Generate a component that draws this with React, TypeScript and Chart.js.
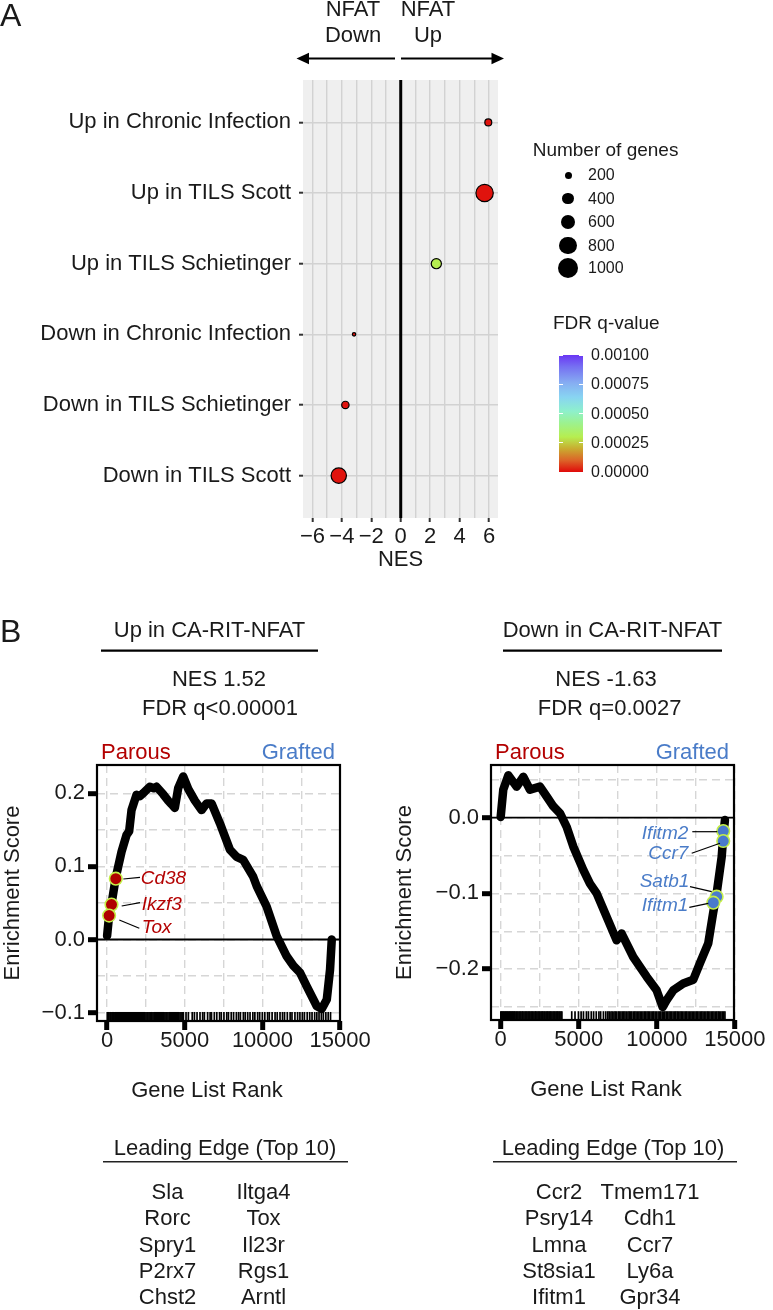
import React, { useEffect, useRef } from 'react';
import { Chart, registerables } from 'chart.js';

Chart.register(...registerables);

const FONT = '"Liberation Sans", Arial, Helvetica, sans-serif';
const INK = '#1a1a1a';

// ---------------- Panel A data ----------------
const categories = [
  'Up in Chronic Infection',
  'Up in TILS Scott',
  'Up in TILS Schietinger',
  'Down in Chronic Infection',
  'Down in TILS Schietinger',
  'Down in TILS Scott',
];
const nesValues = [5.95, 5.7, 2.42, -3.17, -3.76, -4.21];
const geneCounts = [245, 880, 400, 120, 265, 730];
const fdrQValues = [0.00001, 0.00001, 0.0003, 0.00001, 0.00001, 0.00001];
const nesTickValues = [-6, -5, -4, -3, -2, -1, 0, 1, 2, 3, 4, 5, 6];
const sizeLegendValues = [200, 400, 600, 800, 1000];
const fdrLegendTicks = [0.001, 0.00075, 0.0005, 0.00025, 0];
const fdrLegendLabels = ['0.00100', '0.00075', '0.00050', '0.00025', '0.00000'];

// ---------------- Panel B data ----------------
const upRanks = [0, 130, 280, 560, 930, 1250, 1420, 1572, 1894, 2100, 2320, 2750, 3000, 3180, 3600, 3930, 4150, 4360, 4575, 4900, 5220, 5650, 6080, 6400, 6730, 7260, 7900, 8340, 8760, 9400, 9630, 10270, 10910, 11560, 11990, 12410, 12850, 13490, 13810, 14140, 14350, 14460];
const upES = [0.005, 0.033, 0.048, 0.085, 0.12, 0.143, 0.148, 0.177, 0.198, 0.196, 0.2, 0.209, 0.207, 0.209, 0.199, 0.19, 0.185, 0.18, 0.207, 0.223, 0.206, 0.19, 0.177, 0.186, 0.186, 0.159, 0.123, 0.113, 0.109, 0.086, 0.073, 0.045, 0.005, -0.023, -0.036, -0.045, -0.064, -0.091, -0.095, -0.082, -0.041, 0.0];
const upRugRanks = [15, 70, 120, 190, 240, 310, 365, 420, 500, 555, 610, 680, 745, 800, 870, 925, 990, 1060, 1120, 1170, 1240, 1310, 1365, 1430, 1500, 1560, 1620, 1700, 1760, 1830, 1880, 1950, 2030, 2090, 2150, 2230, 2300, 2360, 2420, 2500, 2570, 2630, 2700, 2770, 2840, 2890, 2960, 3040, 3100, 3170, 3240, 3300, 3380, 3440, 3510, 3580, 3640, 3720, 3790, 3850, 3920, 4000, 4060, 4130, 4200, 4270, 4340, 4400, 4480, 4550, 4610, 4690, 4760, 4830, 4900, 5080, 5230, 5480, 5620, 5790, 5980, 6150, 6260, 6470, 6630, 6720, 6900, 7060, 7240, 7350, 7520, 7700, 7810, 7990, 8140, 8320, 8460, 8580, 8770, 8890, 9050, 9200, 9380, 9510, 9690, 9820, 9990, 10150, 10330, 10440, 10620, 10810, 10950, 11130, 11290, 11420, 11600, 11780, 11900, 12090, 12260, 12410, 12570, 12700, 12880, 13040, 13190, 13360, 13500, 13640, 13790, 13920, 14080, 14230, 14380];
const upLeadGenes = ['Cd38', 'Ikzf3', 'Tox'];
const upLeadRanks = [560, 283, 129];
const upLeadES = [0.0832, 0.0477, 0.0327];

const downRanks = [0, 166, 487, 1024, 1447, 1876, 2516, 2945, 3368, 3796, 4225, 4648, 5288, 5717, 6146, 6786, 7426, 7746, 8489, 9347, 9987, 10371, 10627, 11050, 11690, 12330, 12760, 13290, 13610, 13830, 14150, 14250, 14360];
const downES = [0.001, 0.037, 0.056, 0.041, 0.054, 0.037, 0.041, 0.028, 0.015, 0.006, -0.012, -0.038, -0.069, -0.087, -0.1, -0.131, -0.162, -0.153, -0.184, -0.21, -0.228, -0.25, -0.241, -0.228, -0.219, -0.214, -0.192, -0.166, -0.125, -0.1, -0.052, -0.025, -0.003];
const downRugRanks = [10, 60, 130, 180, 250, 310, 370, 430, 490, 560, 610, 680, 740, 800, 870, 920, 990, 1050, 1110, 1180, 1240, 1300, 1370, 1420, 1490, 1560, 1620, 1680, 1750, 1810, 1870, 1940, 2000, 2060, 2130, 2200, 2250, 2320, 2390, 2450, 2510, 2580, 2640, 2700, 2770, 2830, 2900, 2960, 3020, 3090, 3150, 3210, 3280, 3350, 3410, 3470, 3540, 3600, 3660, 3730, 3790, 3860, 3920, 4550, 4760, 4980, 5150, 5300, 5490, 5620, 5800, 5950, 6120, 6290, 6400, 6580, 6730, 6860, 6950, 7060, 7140, 7250, 7330, 7420, 7530, 7610, 7700, 7790, 7880, 7960, 8050, 8150, 8230, 8320, 8400, 8500, 8590, 8670, 8760, 8850, 8930, 9020, 9110, 9200, 9280, 9370, 9450, 9540, 9630, 9720, 9800, 9890, 9980, 10080, 10170, 10250, 10340, 10430, 10510, 10600, 10690, 10780, 10860, 10950, 11040, 11130, 11210, 11300, 11390, 11480, 11560, 11650, 11740, 11830, 11910, 12000, 12090, 12180, 12260, 12350, 12440, 12530, 12610, 12700, 12790, 12880, 12960, 13050, 13140, 13230, 13310, 13400, 13490, 13580, 13660, 13750, 13840, 13930, 14010, 14100, 14190, 14280, 14360];
const downLeadGenes = ['Ifitm2', 'Ccr7', 'Satb1', 'Ifitm1'];
const downLeadRanks = [14251, 14251, 13828, 13614];
const downLeadES = [-0.0176, -0.0308, -0.1043, -0.1123];

const rankTicks = [0, 2500, 5000, 7500, 10000, 12500, 15000];
const upESTicks = [-0.1, -0.05, 0, 0.05, 0.1, 0.15, 0.2];
const downESTicks = [-0.25, -0.2, -0.15, -0.1, -0.05, 0, 0.05];

const upLeadingEdge = [['Sla', 'Iltga4'], ['Rorc', 'Tox'], ['Spry1', 'Il23r'], ['P2rx7', 'Rgs1'], ['Chst2', 'Arntl']];
const downLeadingEdge = [['Ccr2', 'Tmem171'], ['Psry14', 'Cdh1'], ['Lmna', 'Ccr7'], ['St8sia1', 'Ly6a'], ['Ifitm1', 'Gpr34']];

// ---------------- styles / layout ----------------
const FDR_MAX = 0.001;
const fdrStops: [number, string][] = [
  [0, '#e00a0a'], [0.1, '#dc6428'], [0.2, '#c9ac30'], [0.3, '#b6ee50'], [0.42, '#9cf290'],
  [0.52, '#8ef0cc'], [0.64, '#88d4f2'], [0.76, '#86aef2'], [0.9, '#7670f2'], [1, '#6a36f4'],
];
function hexToRgb(h: string) {
  const n = parseInt(h.slice(1), 16);
  return [(n >> 16) & 255, (n >> 8) & 255, n & 255];
}
function fdrColor(q: number) {
  const t = Math.max(0, Math.min(1, q / FDR_MAX));
  for (let i = 1; i < fdrStops.length; i++) {
    const [t1, c1] = fdrStops[i];
    const [t0, c0] = fdrStops[i - 1];
    if (t <= t1) {
      const f = (t - t0) / (t1 - t0);
      const a = hexToRgb(c0), b = hexToRgb(c1);
      const m = a.map((v, k) => Math.round(v + (b[k] - v) * f));
      return `rgb(${m[0]},${m[1]},${m[2]})`;
    }
  }
  return fdrStops[fdrStops.length - 1][1];
}
function sizeRadius(n: number) {
  return 3.5 + 0.372 * (Math.sqrt(n) - Math.sqrt(200));
}
const minusFmt = (v: number, d: number) => (v < -1e-9 ? '\u2212' : '') + Math.abs(v).toFixed(d);
const isMultiple = (v: number, step: number) => Math.abs(v / step - Math.round(v / step)) < 1e-6;

type Box = { x: number; y: number; w: number; h: number };
type Area = { l: number; t: number; r: number; b: number };

const A_BOX: Box = { x: 0, y: 50, w: 525, h: 523 };
const A_AREA: Area = { l: 303, t: 80, r: 498, b: 518 };
const UP_BOX: Box = { x: 0, y: 735, w: 380, h: 326 };
const UP_AREA: Area = { l: 97, t: 765, r: 340, b: 1021 };
const DOWN_BOX: Box = { x: 392, y: 735, w: 381, h: 326 };
const DOWN_AREA: Area = { l: 491, t: 765, r: 734, b: 1020 };

const bgPlugin = {
  id: 'panelBg',
  beforeDraw(chart: any, _a: any, o: any) {
    if (!o || !o.color) return;
    const { ctx, chartArea: ca } = chart;
    ctx.save();
    ctx.fillStyle = o.color;
    ctx.fillRect(ca.left, ca.top, ca.right - ca.left, ca.bottom - ca.top);
    ctx.restore();
  },
};
const zeroLinePlugin = {
  id: 'zeroLine',
  beforeDatasetsDraw(chart: any, _a: any, o: any) {
    if (!o || !o.axis) return;
    const sc = chart.scales[o.axis];
    const ca = chart.chartArea;
    const ctx = chart.ctx;
    const p = sc.getPixelForValue(0);
    ctx.save();
    ctx.strokeStyle = o.color;
    ctx.lineWidth = o.width;
    ctx.beginPath();
    if (o.axis === 'x') { ctx.moveTo(p, ca.top); ctx.lineTo(p, ca.bottom); }
    else { ctx.moveTo(ca.left, p); ctx.lineTo(ca.right, p); }
    ctx.stroke();
    ctx.restore();
  },
};
const framePlugin = {
  id: 'frame',
  afterDatasetsDraw(chart: any, _a: any, o: any) {
    if (!o || !o.width) return;
    const { ctx, chartArea: ca } = chart;
    ctx.save();
    ctx.strokeStyle = o.color;
    ctx.lineWidth = o.width;
    ctx.strokeRect(ca.left, ca.top, ca.right - ca.left, ca.bottom - ca.top);
    ctx.restore();
  },
};

function panelAConfig(): any {
  return {
    type: 'scatter',
    data: {
      datasets: [{
        data: nesValues.map((x, i) => ({ x, y: i })),
        pointRadius: geneCounts.map((n) => sizeRadius(n) - 0.6),
        pointBackgroundColor: fdrQValues.map(fdrColor),
        pointBorderColor: '#000',
        pointBorderWidth: 1.2,
      }],
    },
    plugins: [bgPlugin, zeroLinePlugin],
    options: {
      responsive: false,
      animation: false,
      events: [],
      layout: { autoPadding: false, padding: { left: 0, top: A_AREA.t - A_BOX.y, right: A_BOX.x + A_BOX.w - A_AREA.r, bottom: 0 } },
      plugins: {
        legend: { display: false },
        tooltip: { enabled: false },
        panelBg: { color: '#efefef' },
        zeroLine: { axis: 'x', color: '#000', width: 3 },
      },
      scales: {
        x: {
          type: 'linear', min: -6.64, max: 6.61, bounds: 'data',
          afterBuildTicks: (s: any) => { s.ticks = nesTickValues.map((v) => ({ value: v })); },
          afterFit: (s: any) => { s.height = A_BOX.y + A_BOX.h - A_AREA.b; },
          grid: {
            color: '#d2d2d2', lineWidth: 1.4, tickLength: 4, tickWidth: 2,
            tickColor: (c: any) => (c.tick && isMultiple(c.tick.value, 2) ? '#333' : 'rgba(0,0,0,0)'),
          },
          border: { display: false },
          ticks: {
            padding: 4, color: INK, autoSkip: false, maxRotation: 0,
            font: { size: 22, family: FONT, lineHeight: 1 },
            callback: (v: any) => (isMultiple(v, 2) ? minusFmt(v, 0) : ''),
          },
          title: { display: true, text: 'NES', color: INK, font: { size: 22, family: FONT, lineHeight: 1.2 }, padding: 0 },
        },
        y: {
          type: 'linear', reverse: true, min: -0.6, max: 5.6, bounds: 'data',
          afterBuildTicks: (s: any) => { s.ticks = categories.map((_, i) => ({ value: i })); },
          afterFit: (s: any) => { s.width = A_AREA.l - A_BOX.x; },
          grid: { color: '#d2d2d2', lineWidth: 1.4, tickLength: 4, tickWidth: 2, tickColor: '#333' },
          border: { display: false },
          ticks: {
            padding: 8, color: INK, autoSkip: false,
            font: { size: 22, family: FONT, lineHeight: 1 },
            callback: (v: any) => categories[v] ?? '',
          },
        },
      },
    },
  };
}

type Gsea = {
  box: Box; area: Area; xMin: number; xMax: number; yMin: number; yMax: number;
  ranks: number[]; es: number[]; rug: number[]; rugY: number; yTicks: number[];
  leadRanks: number[]; leadES: number[]; leadFill: string;
};

const UP: Gsea = {
  box: UP_BOX, area: UP_AREA, xMin: -650, xMax: 14990, yMin: -0.1115, yMax: 0.2387,
  ranks: upRanks, es: upES, rug: upRugRanks, rugY: -0.1053, yTicks: upESTicks,
  leadRanks: upLeadRanks, leadES: upLeadES, leadFill: '#b00000',
};
const DOWN: Gsea = {
  box: DOWN_BOX, area: DOWN_AREA, xMin: -620, xMax: 14940, yMin: -0.2672, yMax: 0.0696,
  ranks: downRanks, es: downES, rug: downRugRanks, rugY: -0.2615, yTicks: downESTicks,
  leadRanks: downLeadRanks, leadES: downLeadES, leadFill: '#4a7acc',
};

function gseaConfig(g: Gsea): any {
  return {
    type: 'scatter',
    data: {
      datasets: [
        {
          order: 0,
          data: g.leadRanks.map((x, i) => ({ x, y: g.leadES[i] })),
          pointRadius: 6.3, pointBackgroundColor: g.leadFill, pointBorderColor: '#c4ee48', pointBorderWidth: 1.6,
        },
        {
          order: 1, showLine: true,
          data: g.ranks.map((x, i) => ({ x, y: g.es[i] })),
          pointRadius: 0, borderColor: '#000', borderWidth: 8.5,
          borderJoinStyle: 'round', borderCapStyle: 'round', tension: 0,
        },
        {
          order: 2,
          data: g.rug.map((x) => ({ x, y: g.rugY })),
          pointStyle: 'line', rotation: 90, pointRadius: 4.5,
          pointBorderColor: '#000', pointBorderWidth: 1.7,
        },
      ],
    },
    plugins: [zeroLinePlugin, framePlugin],
    options: {
      responsive: false,
      animation: false,
      events: [],
      layout: { autoPadding: false, padding: { left: 0, top: g.area.t - g.box.y, right: g.box.x + g.box.w - g.area.r, bottom: 0 } },
      plugins: {
        legend: { display: false },
        tooltip: { enabled: false },
        zeroLine: { axis: 'y', color: '#000', width: 1.8 },
        frame: { color: '#000', width: 2.2 },
      },
      scales: {
        x: {
          type: 'linear', min: g.xMin, max: g.xMax, bounds: 'data',
          afterBuildTicks: (s: any) => { s.ticks = rankTicks.map((v) => ({ value: v })); },
          afterFit: (s: any) => { s.height = g.box.y + g.box.h - g.area.b; },
          grid: {
            color: '#d6d6d6', lineWidth: 1.4, tickLength: 9, tickWidth: 5,
            tickColor: (c: any) => (c.tick && isMultiple(c.tick.value, 5000) ? '#000' : 'rgba(0,0,0,0)'),
          },
          border: { display: false, dash: [8, 5] },
          ticks: {
            padding: 0, color: INK, autoSkip: false, maxRotation: 0,
            font: { size: 22, family: FONT, lineHeight: 1 },
            callback: (v: any) => (isMultiple(v, 5000) ? String(v) : ''),
          },
        },
        y: {
          type: 'linear', min: g.yMin, max: g.yMax, bounds: 'data',
          afterBuildTicks: (s: any) => { s.ticks = g.yTicks.map((v) => ({ value: v })); },
          afterFit: (s: any) => { s.width = g.area.l - g.box.x; },
          grid: {
            color: '#d6d6d6', lineWidth: 1.4, tickLength: 9, tickWidth: 5,
            tickColor: (c: any) => (c.tick && isMultiple(c.tick.value, 0.1) ? '#000' : 'rgba(0,0,0,0)'),
          },
          border: { display: false, dash: [8, 5] },
          ticks: {
            padding: 3, color: INK, autoSkip: false,
            font: { size: 22, family: FONT, lineHeight: 1 },
            callback: (v: any) => (isMultiple(v, 0.1) ? minusFmt(v, 1) : ''),
          },
          title: { display: true, text: 'Enrichment Score', color: INK, font: { size: 22, family: FONT, lineHeight: 1.2 }, padding: 0 },
        },
      },
    },
  };
}

// ---------------- HTML helpers ----------------
function Txt(props: { x: number; y: number; size?: number; anchor?: 'start' | 'middle' | 'end'; color?: string; italic?: boolean; children: any }) {
  const { x, y, size = 22, anchor = 'middle', color = INK, italic = false, children } = props;
  const tx = anchor === 'start' ? '0' : anchor === 'end' ? '-100%' : '-50%';
  return (
    <div style={{
      position: 'absolute', left: x, top: y, transform: `translate(${tx}, -50%)`,
      fontSize: size, lineHeight: 1, fontFamily: FONT, color, whiteSpace: 'nowrap',
      fontStyle: italic ? 'italic' : 'normal',
    }}>{children}</div>
  );
}

const SIZE_LEG = { cx: 568, labelX: 588, ys: [175, 198.7, 222, 245.7, 268] };
const CBAR = { x: 559, top: 355, bottom: 472, w: 24, labelX: 591 };
const upLabelPos = [
  { x: 140.7, y: 876.7, line: [123.3, 879, 140, 877.3] },
  { x: 141.7, y: 903, line: [121.7, 906, 140, 902.7] },
  { x: 141.7, y: 926, line: [119.3, 920, 139.3, 928.3] },
];
const downLabelPos = [
  { x: 688.3, y: 831.7, line: [692.3, 831.7, 717.3, 831.7] },
  { x: 688.3, y: 851.5, line: [691.7, 853.3, 720, 843.3] },
  { x: 689.3, y: 880, line: [690, 886.7, 711.7, 891.7] },
  { x: 688.3, y: 904, line: [689.3, 907.3, 708.3, 903.3] },
];
const PAROUS = '#b30000';
const GRAFTED = '#4a7cc8';

export default function App() {
  const aRef = useRef<HTMLCanvasElement>(null);
  const upRef = useRef<HTMLCanvasElement>(null);
  const downRef = useRef<HTMLCanvasElement>(null);

  useEffect(() => {
    Chart.defaults.font.family = FONT;
    Chart.defaults.color = INK;
    const charts = [
      new Chart(aRef.current as HTMLCanvasElement, panelAConfig()),
      new Chart(upRef.current as HTMLCanvasElement, gseaConfig(UP)),
      new Chart(downRef.current as HTMLCanvasElement, gseaConfig(DOWN)),
    ];
    return () => charts.forEach((c) => c.destroy());
  }, []);

  const canvasStyle = (b: Box): any => ({ position: 'absolute', left: b.x, top: b.y, width: b.w, height: b.h });
  const cbarGradient = `linear-gradient(to top, ${fdrStops.map(([t, c]) => `${c} ${t * 100}%`).join(', ')})`;
  const cbarY = (v: number) => CBAR.bottom - (v / FDR_MAX) * (CBAR.bottom - CBAR.top);

  return (
    <div style={{ position: 'absolute', left: 0, top: 0, width: 773, height: 1310, background: '#fff', overflow: 'hidden', fontFamily: FONT }}>
      <canvas ref={aRef} width={A_BOX.w} height={A_BOX.h} style={canvasStyle(A_BOX)} />
      <canvas ref={upRef} width={UP_BOX.w} height={UP_BOX.h} style={canvasStyle(UP_BOX)} />
      <canvas ref={downRef} width={DOWN_BOX.w} height={DOWN_BOX.h} style={canvasStyle(DOWN_BOX)} />

      <svg width={773} height={1310} style={{ position: 'absolute', left: 0, top: 0, pointerEvents: 'none' }}>
        {/* NFAT arrows */}
        <line x1={395} y1={58.5} x2={306} y2={58.5} stroke="#000" strokeWidth={1.8} />
        <polygon points="296.5,58.5 309,52.8 309,64.2" fill="#000" />
        <line x1={401} y1={58.5} x2={494} y2={58.5} stroke="#000" strokeWidth={1.8} />
        <polygon points="504,58.5 491.5,52.8 491.5,64.2" fill="#000" />
        {/* title underlines */}
        <line x1={101} y1={650.7} x2={318} y2={650.7} stroke="#000" strokeWidth={2.2} />
        <line x1={503} y1={650.7} x2={722} y2={650.7} stroke="#000" strokeWidth={2.2} />
        <line x1={103} y1={1161.7} x2={348} y2={1161.7} stroke="#222" strokeWidth={1.5} />
        <line x1={493} y1={1161.7} x2={737} y2={1161.7} stroke="#222" strokeWidth={1.5} />
        {/* connectors */}
        {upLabelPos.map((p, i) => (
          <line key={'uc' + i} x1={p.line[0]} y1={p.line[1]} x2={p.line[2]} y2={p.line[3]} stroke="#000" strokeWidth={1.2} />
        ))}
        {downLabelPos.map((p, i) => (
          <line key={'dc' + i} x1={p.line[0]} y1={p.line[1]} x2={p.line[2]} y2={p.line[3]} stroke="#000" strokeWidth={1.2} />
        ))}
      </svg>

      {/* Panel labels */}
      <Txt x={0} y={15} size={32} anchor="start">A</Txt>
      <Txt x={0} y={631} size={32} anchor="start">B</Txt>

      {/* NFAT headers */}
      <Txt x={353} y={8.5}>NFAT</Txt>
      <Txt x={353} y={35}>Down</Txt>
      <Txt x={428} y={8.5}>NFAT</Txt>
      <Txt x={428} y={35}>Up</Txt>

      {/* Size legend */}
      <Txt x={532.7} y={149.3} size={19} anchor="start">Number of genes</Txt>
      {sizeLegendValues.map((n, i) => {
        const r = sizeRadius(n);
        return (
          <React.Fragment key={'s' + n}>
            <div style={{ position: 'absolute', left: SIZE_LEG.cx - r, top: SIZE_LEG.ys[i] - r, width: 2 * r, height: 2 * r, borderRadius: '50%', background: '#000' }} />
            <Txt x={SIZE_LEG.labelX} y={SIZE_LEG.ys[i]} size={16} anchor="start">{String(n)}</Txt>
          </React.Fragment>
        );
      })}

      {/* FDR colorbar */}
      <Txt x={553} y={321.7} size={19} anchor="start">FDR q-value</Txt>
      <div style={{ position: 'absolute', left: CBAR.x, top: CBAR.top, width: CBAR.w, height: CBAR.bottom - CBAR.top, background: cbarGradient }} />
      {fdrLegendTicks.map((v, i) => (
        <React.Fragment key={'f' + i}>
          <div style={{ position: 'absolute', left: CBAR.x, top: cbarY(v) - 0.5, width: 4, height: 1, background: '#fff' }} />
          <div style={{ position: 'absolute', left: CBAR.x + CBAR.w - 4, top: cbarY(v) - 0.5, width: 4, height: 1, background: '#fff' }} />
          <Txt x={CBAR.labelX} y={cbarY(v)} size={16} anchor="start">{fdrLegendLabels[i]}</Txt>
        </React.Fragment>
      ))}

      {/* Panel B headers */}
      <Txt x={209.5} y={630}>Up in CA-RIT-NFAT</Txt>
      <Txt x={612.5} y={630}>Down in CA-RIT-NFAT</Txt>
      <Txt x={219} y={679}>NES 1.52</Txt>
      <Txt x={220} y={708}>FDR q&lt;0.00001</Txt>
      <Txt x={606} y={679}>NES -1.63</Txt>
      <Txt x={609.6} y={708}>FDR q=0.0027</Txt>
      <Txt x={101} y={751.7} anchor="start" color={PAROUS}>Parous</Txt>
      <Txt x={335} y={751.7} anchor="end" color={GRAFTED}>Grafted</Txt>
      <Txt x={495} y={751.7} anchor="start" color={PAROUS}>Parous</Txt>
      <Txt x={729} y={751.7} anchor="end" color={GRAFTED}>Grafted</Txt>

      {/* Lead gene labels */}
      {upLeadGenes.map((g, i) => (
        <Txt key={'ul' + g} x={upLabelPos[i].x} y={upLabelPos[i].y} size={19} anchor="start" italic color={PAROUS}>{g}</Txt>
      ))}
      {downLeadGenes.map((g, i) => (
        <Txt key={'dl' + g} x={downLabelPos[i].x} y={downLabelPos[i].y} size={19} anchor="end" italic color={GRAFTED}>{g}</Txt>
      ))}

      {/* x titles */}
      <Txt x={207} y={1090}>Gene List Rank</Txt>
      <Txt x={606} y={1089}>Gene List Rank</Txt>

      {/* Leading edge */}
      <Txt x={225} y={1148}>Leading Edge (Top 10)</Txt>
      <Txt x={613} y={1148}>Leading Edge (Top 10)</Txt>
      {upLeadingEdge.map((row, i) => (
        <React.Fragment key={'ule' + i}>
          <Txt x={167.5} y={1191.7 + i * 26.4}>{row[0]}</Txt>
          <Txt x={263.5} y={1191.7 + i * 26.4}>{row[1]}</Txt>
        </React.Fragment>
      ))}
      {downLeadingEdge.map((row, i) => (
        <React.Fragment key={'dle' + i}>
          <Txt x={559} y={1191.7 + i * 26.4}>{row[0]}</Txt>
          <Txt x={650} y={1191.7 + i * 26.4}>{row[1]}</Txt>
        </React.Fragment>
      ))}
    </div>
  );
}
